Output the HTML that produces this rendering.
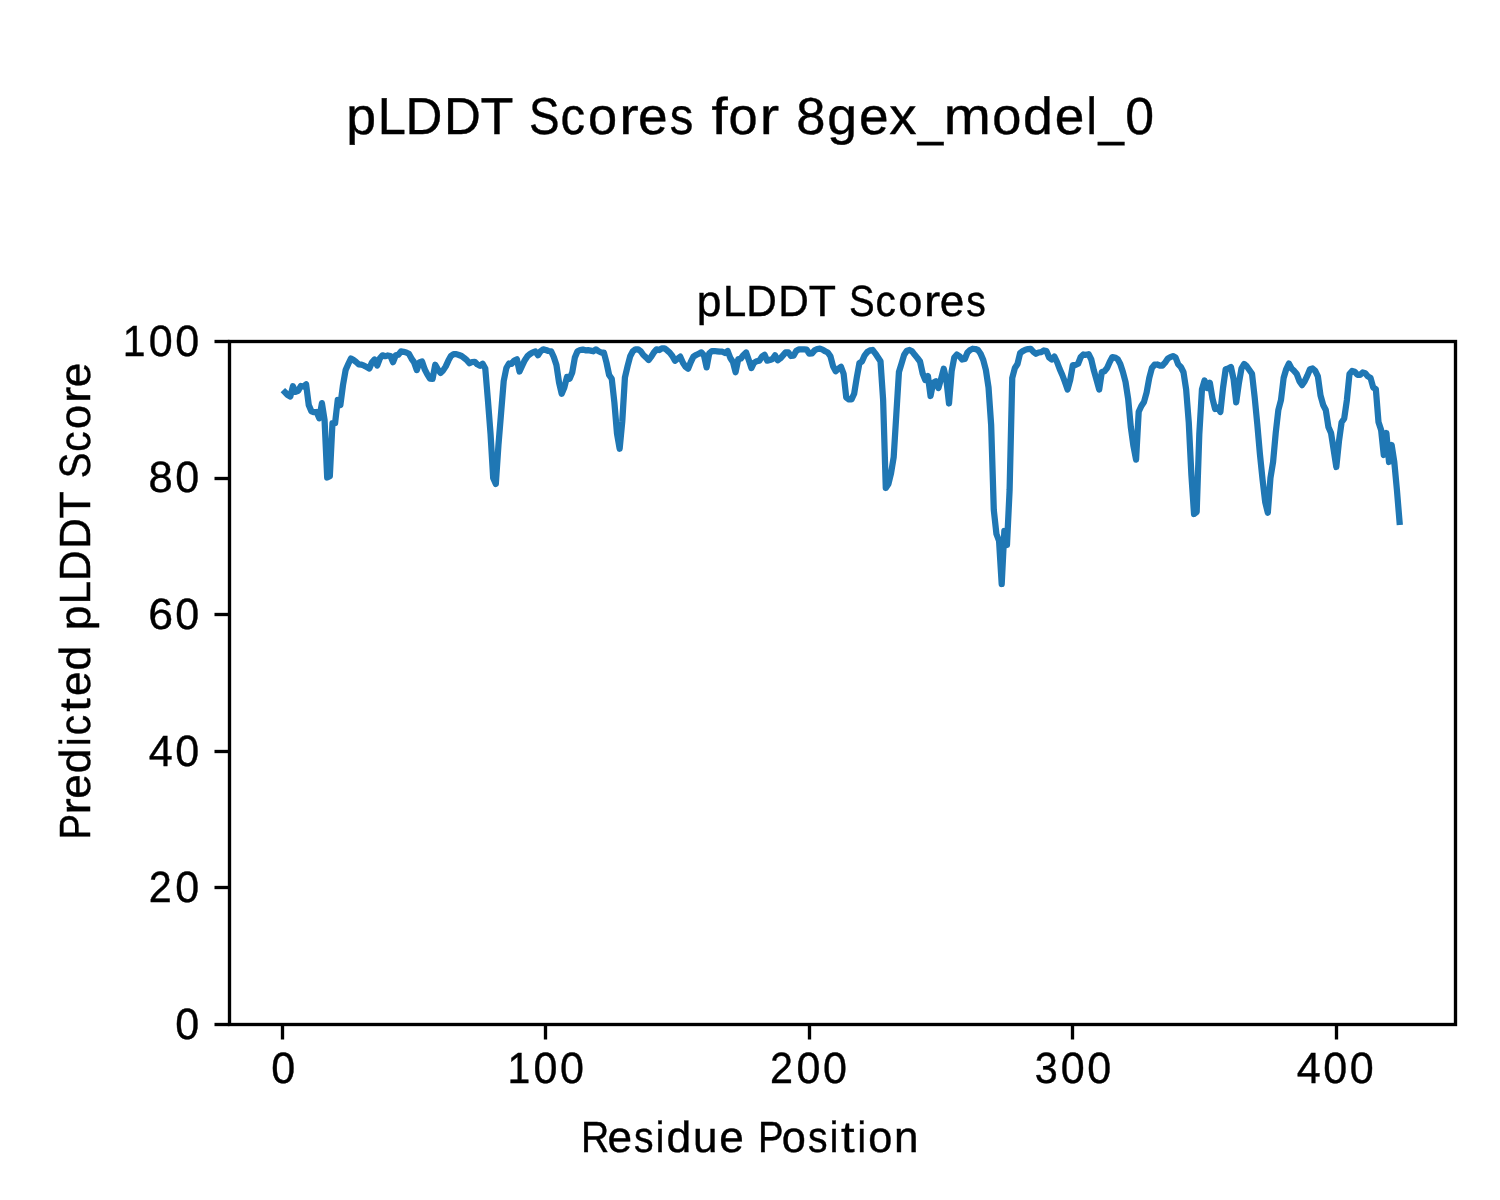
<!DOCTYPE html>
<html><head><meta charset="utf-8"><title>pLDDT Scores for 8gex_model_0</title>
<style>
html,body{margin:0;padding:0;background:#fff;}
body{width:1500px;height:1200px;overflow:hidden;}
svg{display:block;}
text{font-family:"Liberation Sans", sans-serif;fill:#000;stroke:#000;stroke-width:0.4px;text-rendering:geometricPrecision;}
.tx{filter:grayscale(1);}
</style></head>
<body>
<svg width="1500" height="1200" viewBox="0 0 1500 1200">
<rect width="1500" height="1200" fill="#fff"/>
<rect x="229.5" y="341.5" width="1226.00" height="683.00" fill="none" stroke="#000" stroke-width="3.33" stroke-linejoin="miter"/>
<line x1="214.50" y1="1024.50" x2="229.5" y2="1024.50" stroke="#000" stroke-width="3.33"/>
<line x1="214.50" y1="887.50" x2="229.5" y2="887.50" stroke="#000" stroke-width="3.33"/>
<line x1="214.50" y1="751.50" x2="229.5" y2="751.50" stroke="#000" stroke-width="3.33"/>
<line x1="214.50" y1="614.50" x2="229.5" y2="614.50" stroke="#000" stroke-width="3.33"/>
<line x1="214.50" y1="478.50" x2="229.5" y2="478.50" stroke="#000" stroke-width="3.33"/>
<line x1="214.50" y1="341.50" x2="229.5" y2="341.50" stroke="#000" stroke-width="3.33"/>
<line x1="282.50" y1="1024.5" x2="282.50" y2="1039.50" stroke="#000" stroke-width="3.33"/>
<line x1="545.50" y1="1024.5" x2="545.50" y2="1039.50" stroke="#000" stroke-width="3.33"/>
<line x1="809.50" y1="1024.5" x2="809.50" y2="1039.50" stroke="#000" stroke-width="3.33"/>
<line x1="1072.50" y1="1024.5" x2="1072.50" y2="1039.50" stroke="#000" stroke-width="3.33"/>
<line x1="1336.50" y1="1024.5" x2="1336.50" y2="1039.50" stroke="#000" stroke-width="3.33"/>
<path d="M285.03 392.30 L287.67 395.00 L290.30 396.50 L292.94 386.30 L295.57 391.80 L298.21 390.80 L300.84 386.00 L303.48 386.50 L306.11 384.30 L308.75 405.00 L311.38 411.30 L314.02 412.20 L316.65 412.00 L319.29 418.30 L321.92 403.20 L324.56 420.00 L327.19 477.50 L329.83 476.25 L332.46 423.12 L335.10 423.12 L337.73 400.00 L340.37 405.00 L343.00 385.00 L345.64 370.00 L348.27 364.00 L350.90 358.50 L353.54 360.00 L356.17 362.00 L358.81 364.30 L361.44 364.67 L364.08 365.67 L366.71 367.00 L369.35 368.53 L371.98 362.33 L374.62 359.47 L377.25 365.53 L379.89 358.33 L382.52 355.30 L385.16 356.17 L387.79 355.47 L390.43 356.00 L393.06 362.20 L395.70 355.33 L398.33 354.67 L400.97 351.47 L403.60 351.83 L406.24 352.50 L408.87 353.80 L411.51 358.60 L414.14 362.40 L416.77 370.10 L419.41 362.50 L422.04 361.50 L424.68 369.30 L427.31 374.40 L429.95 378.60 L432.58 378.90 L435.22 364.70 L437.85 369.40 L440.49 372.90 L443.12 370.40 L445.76 366.40 L448.39 360.60 L451.03 355.80 L453.66 354.10 L456.30 354.10 L458.93 355.00 L461.57 356.00 L464.20 358.00 L466.84 360.20 L469.47 363.30 L472.11 362.00 L474.74 361.80 L477.38 364.40 L480.01 365.90 L482.64 363.70 L485.28 368.60 L487.91 400.00 L490.55 434.00 L493.18 478.00 L495.82 484.00 L498.45 445.00 L501.09 413.00 L503.72 381.00 L506.36 368.00 L508.99 363.50 L511.63 363.80 L514.26 360.50 L516.90 359.30 L519.53 371.50 L522.17 365.70 L524.80 360.20 L527.44 356.20 L530.07 354.00 L532.71 352.40 L535.34 351.50 L537.98 355.30 L540.61 351.30 L543.25 349.40 L545.88 350.00 L548.51 351.00 L551.15 351.40 L553.78 357.00 L556.42 365.00 L559.05 382.50 L561.69 393.75 L564.32 387.50 L566.96 376.88 L569.59 378.75 L572.23 372.50 L574.86 357.50 L577.50 351.25 L580.13 350.00 L582.77 349.60 L585.40 350.30 L588.04 350.20 L590.67 350.62 L593.31 351.25 L595.94 349.38 L598.58 351.25 L601.21 352.50 L603.85 352.50 L606.48 362.50 L609.12 375.00 L611.75 378.75 L614.38 402.50 L617.02 433.75 L619.65 448.75 L622.29 421.25 L624.92 377.50 L627.56 366.25 L630.19 356.25 L632.83 351.25 L635.46 349.38 L638.10 349.38 L640.73 351.25 L643.37 355.00 L646.00 357.33 L648.64 360.00 L651.27 356.67 L653.91 352.33 L656.54 349.33 L659.18 350.00 L661.81 348.33 L664.45 348.33 L667.08 350.33 L669.72 352.67 L672.35 356.00 L674.99 360.67 L677.62 358.67 L680.25 356.67 L682.89 362.67 L685.52 366.67 L688.16 368.67 L690.79 362.00 L693.43 356.67 L696.06 355.00 L698.70 353.67 L701.33 352.33 L703.97 355.33 L706.60 367.33 L709.24 353.33 L711.87 351.00 L714.51 351.00 L717.14 351.33 L719.78 351.67 L722.41 351.67 L725.05 353.00 L727.68 351.00 L730.32 358.00 L732.95 362.00 L735.59 372.20 L738.22 359.30 L740.86 358.50 L743.49 355.00 L746.12 352.50 L748.76 360.00 L751.39 368.00 L754.03 362.67 L756.66 361.33 L759.30 360.67 L761.93 356.67 L764.57 354.80 L767.20 360.67 L769.84 360.00 L772.47 359.00 L775.11 355.33 L777.74 360.33 L780.38 358.33 L783.01 355.33 L785.65 352.33 L788.28 352.30 L790.92 356.00 L793.55 355.67 L796.19 351.00 L798.82 349.33 L801.46 349.33 L804.09 349.33 L806.73 349.67 L809.36 353.67 L811.99 353.33 L814.63 350.33 L817.26 349.00 L819.90 348.60 L822.53 349.60 L825.17 351.25 L827.80 352.50 L830.44 356.25 L833.07 366.25 L835.71 371.25 L838.34 368.75 L840.98 366.88 L843.61 373.75 L846.25 397.50 L848.88 399.38 L851.52 399.38 L854.15 393.75 L856.79 377.50 L859.42 363.12 L862.06 361.33 L864.69 355.33 L867.33 352.00 L869.96 350.40 L872.60 350.00 L875.23 353.33 L877.86 357.33 L880.50 361.33 L883.13 400.00 L885.77 488.00 L888.40 484.00 L891.04 473.33 L893.67 457.33 L896.31 414.67 L898.94 372.00 L901.58 363.33 L904.21 354.67 L906.85 350.67 L909.48 350.00 L912.12 351.33 L914.75 354.80 L917.39 358.00 L920.02 361.50 L922.66 373.50 L925.29 380.00 L927.93 376.00 L930.56 396.00 L933.20 382.67 L935.83 381.33 L938.47 388.00 L941.10 378.75 L943.73 368.75 L946.37 380.00 L949.00 403.50 L951.64 371.25 L954.27 357.50 L956.91 354.50 L959.54 356.25 L962.18 359.50 L964.81 359.00 L967.45 352.50 L970.08 350.00 L972.72 348.75 L975.35 349.00 L977.99 350.00 L980.62 353.75 L983.26 360.00 L985.89 370.00 L988.53 387.50 L991.16 425.00 L993.80 510.00 L996.43 534.00 L999.07 541.00 L1001.70 584.00 L1004.34 531.00 L1006.97 545.00 L1009.60 490.00 L1012.24 378.00 L1014.87 368.00 L1017.51 364.00 L1020.14 353.00 L1022.78 351.10 L1025.41 349.80 L1028.05 349.10 L1030.68 348.80 L1033.32 351.80 L1035.95 353.80 L1038.59 352.50 L1041.22 352.10 L1043.86 350.50 L1046.49 351.10 L1049.13 357.50 L1051.76 359.50 L1054.40 356.50 L1057.03 362.00 L1059.67 369.00 L1062.30 375.00 L1064.94 382.00 L1067.57 389.50 L1070.21 380.00 L1072.84 365.00 L1075.47 365.00 L1078.11 363.75 L1080.74 357.00 L1083.38 354.50 L1086.01 354.80 L1088.65 354.20 L1091.28 359.50 L1093.92 370.70 L1096.55 380.00 L1099.19 389.50 L1101.82 372.00 L1104.46 371.30 L1107.09 368.00 L1109.73 362.00 L1112.36 357.10 L1115.00 357.50 L1117.63 359.10 L1120.27 364.00 L1122.90 372.00 L1125.54 382.00 L1128.17 399.00 L1130.81 427.00 L1133.44 446.00 L1136.08 459.70 L1138.71 411.70 L1141.34 406.00 L1143.98 402.00 L1146.61 392.50 L1149.25 378.00 L1151.88 368.00 L1154.52 364.70 L1157.15 364.50 L1159.79 365.50 L1162.42 365.50 L1165.06 362.70 L1167.69 358.70 L1170.33 357.10 L1172.96 356.10 L1175.60 357.50 L1178.23 364.38 L1180.87 367.00 L1183.50 372.25 L1186.14 389.50 L1188.77 422.50 L1191.41 475.00 L1194.04 514.00 L1196.68 512.00 L1199.31 434.00 L1201.95 389.50 L1204.58 380.50 L1207.21 388.00 L1209.85 382.75 L1212.48 398.50 L1215.12 409.00 L1217.75 407.50 L1220.39 412.00 L1223.02 388.00 L1225.66 369.25 L1228.29 368.50 L1230.93 367.00 L1233.56 379.00 L1236.20 402.30 L1238.83 383.50 L1241.47 368.50 L1244.10 364.00 L1246.74 366.25 L1249.37 370.00 L1252.01 373.75 L1254.64 397.00 L1257.28 424.00 L1259.91 454.00 L1262.55 479.50 L1265.18 502.00 L1267.82 512.70 L1270.45 478.00 L1273.08 462.00 L1275.72 433.00 L1278.35 410.00 L1280.99 400.00 L1283.62 378.00 L1286.26 369.00 L1288.89 363.50 L1291.53 368.50 L1294.16 370.88 L1296.80 374.05 L1299.43 381.18 L1302.07 385.14 L1304.70 381.18 L1307.34 375.64 L1309.97 369.30 L1312.61 368.51 L1315.24 370.88 L1317.88 376.43 L1320.51 395.43 L1323.15 404.94 L1325.78 410.00 L1328.42 427.00 L1331.05 433.00 L1333.69 450.00 L1336.32 467.00 L1338.95 441.36 L1341.59 422.36 L1344.22 418.40 L1346.86 400.18 L1349.49 374.05 L1352.13 370.88 L1354.76 371.68 L1357.40 374.84 L1360.03 374.84 L1362.67 372.47 L1365.30 373.26 L1367.94 376.43 L1370.57 378.01 L1373.21 387.51 L1375.84 389.10 L1378.48 422.00 L1381.11 430.00 L1383.75 455.00 L1386.38 433.00 L1389.02 462.00 L1391.65 445.00 L1394.29 462.00 L1396.92 490.00 L1399.56 522.00" fill="none" stroke="#1f77b4" stroke-width="6.25" stroke-linejoin="round" stroke-linecap="square"/>
<g class="tx">
<text x="346.24" y="133.80" font-size="52.0" textLength="29.82" lengthAdjust="spacingAndGlyphs">p</text>
<text x="377.68" y="133.80" font-size="52.0" textLength="28.12" lengthAdjust="spacingAndGlyphs">L</text>
<text x="405.51" y="133.80" font-size="52.0" textLength="36.86" lengthAdjust="spacingAndGlyphs">D</text>
<text x="444.01" y="133.80" font-size="52.0" textLength="36.86" lengthAdjust="spacingAndGlyphs">D</text>
<text x="480.49" y="133.80" font-size="52.0" textLength="32.92" lengthAdjust="spacingAndGlyphs">T</text>
<text x="528.94" y="133.80" font-size="52.0" textLength="30.52" lengthAdjust="spacingAndGlyphs">S</text>
<text x="560.61" y="133.80" font-size="52.0" textLength="24.61" lengthAdjust="spacingAndGlyphs">c</text>
<text x="588.00" y="133.80" font-size="52.0" textLength="29.11" lengthAdjust="spacingAndGlyphs">o</text>
<text x="619.23" y="133.80" font-size="52.0" textLength="19.41" lengthAdjust="spacingAndGlyphs">r</text>
<text x="638.07" y="133.80" font-size="52.0" textLength="29.60" lengthAdjust="spacingAndGlyphs">e</text>
<text x="669.70" y="133.80" font-size="52.0" textLength="23.55" lengthAdjust="spacingAndGlyphs">s</text>
<text x="711.42" y="133.80" font-size="52.0" textLength="16.19" lengthAdjust="spacingAndGlyphs">f</text>
<text x="728.50" y="133.80" font-size="52.0" textLength="29.11" lengthAdjust="spacingAndGlyphs">o</text>
<text x="759.73" y="133.80" font-size="52.0" textLength="19.41" lengthAdjust="spacingAndGlyphs">r</text>
<text x="796.16" y="133.80" font-size="52.0" textLength="29.17" lengthAdjust="spacingAndGlyphs">8</text>
<text x="827.32" y="133.80" font-size="52.0" textLength="29.82" lengthAdjust="spacingAndGlyphs">g</text>
<text x="859.07" y="133.80" font-size="52.0" textLength="29.60" lengthAdjust="spacingAndGlyphs">e</text>
<text x="889.28" y="133.80" font-size="52.0" textLength="27.31" lengthAdjust="spacingAndGlyphs">x</text>
<text x="917.74" y="135.21" font-size="52.0" textLength="25.45" lengthAdjust="spacingAndGlyphs">_</text>
<text x="943.82" y="133.80" font-size="52.0" textLength="47.09" lengthAdjust="spacingAndGlyphs">m</text>
<text x="992.37" y="133.80" font-size="52.0" textLength="29.11" lengthAdjust="spacingAndGlyphs">o</text>
<text x="1022.94" y="133.80" font-size="52.0" textLength="29.82" lengthAdjust="spacingAndGlyphs">d</text>
<text x="1054.70" y="133.80" font-size="52.0" textLength="29.60" lengthAdjust="spacingAndGlyphs">e</text>
<text x="1086.57" y="133.80" font-size="52.0" textLength="10.35" lengthAdjust="spacingAndGlyphs">l</text>
<text x="1098.61" y="135.21" font-size="52.0" textLength="25.45" lengthAdjust="spacingAndGlyphs">_</text>
<text x="1125.18" y="133.80" font-size="52.0" textLength="28.77" lengthAdjust="spacingAndGlyphs">0</text>
<text x="696.84" y="315.80" font-size="43.6" textLength="24.68" lengthAdjust="spacingAndGlyphs">p</text>
<text x="723.01" y="315.80" font-size="43.6" textLength="23.29" lengthAdjust="spacingAndGlyphs">L</text>
<text x="746.22" y="315.80" font-size="43.6" textLength="30.58" lengthAdjust="spacingAndGlyphs">D</text>
<text x="778.35" y="315.80" font-size="43.6" textLength="30.58" lengthAdjust="spacingAndGlyphs">D</text>
<text x="808.69" y="315.80" font-size="43.6" textLength="27.26" lengthAdjust="spacingAndGlyphs">T</text>
<text x="848.89" y="315.80" font-size="43.6" textLength="25.59" lengthAdjust="spacingAndGlyphs">S</text>
<text x="875.46" y="315.80" font-size="43.6" textLength="20.41" lengthAdjust="spacingAndGlyphs">c</text>
<text x="898.26" y="315.80" font-size="43.6" textLength="24.09" lengthAdjust="spacingAndGlyphs">o</text>
<text x="924.06" y="315.80" font-size="43.6" textLength="16.28" lengthAdjust="spacingAndGlyphs">r</text>
<text x="939.82" y="315.80" font-size="43.6" textLength="24.55" lengthAdjust="spacingAndGlyphs">e</text>
<text x="966.30" y="315.80" font-size="43.6" textLength="19.53" lengthAdjust="spacingAndGlyphs">s</text>
<text x="580.99" y="1151.80" font-size="43.6" textLength="28.28" lengthAdjust="spacingAndGlyphs">R</text>
<text x="607.57" y="1151.80" font-size="43.6" textLength="24.55" lengthAdjust="spacingAndGlyphs">e</text>
<text x="634.05" y="1151.80" font-size="43.6" textLength="19.53" lengthAdjust="spacingAndGlyphs">s</text>
<text x="655.87" y="1151.80" font-size="43.6" textLength="8.53" lengthAdjust="spacingAndGlyphs">i</text>
<text x="666.46" y="1151.80" font-size="43.6" textLength="24.68" lengthAdjust="spacingAndGlyphs">d</text>
<text x="693.09" y="1151.80" font-size="43.6" textLength="24.50" lengthAdjust="spacingAndGlyphs">u</text>
<text x="719.19" y="1151.80" font-size="43.6" textLength="24.55" lengthAdjust="spacingAndGlyphs">e</text>
<text x="758.07" y="1151.80" font-size="43.6" textLength="25.59" lengthAdjust="spacingAndGlyphs">P</text>
<text x="781.76" y="1151.80" font-size="43.6" textLength="24.09" lengthAdjust="spacingAndGlyphs">o</text>
<text x="807.92" y="1151.80" font-size="43.6" textLength="19.53" lengthAdjust="spacingAndGlyphs">s</text>
<text x="829.74" y="1151.80" font-size="43.6" textLength="8.53" lengthAdjust="spacingAndGlyphs">i</text>
<text x="841.03" y="1151.80" font-size="43.6" textLength="13.58" lengthAdjust="spacingAndGlyphs">t</text>
<text x="857.62" y="1151.80" font-size="43.6" textLength="8.53" lengthAdjust="spacingAndGlyphs">i</text>
<text x="868.26" y="1151.80" font-size="43.6" textLength="24.09" lengthAdjust="spacingAndGlyphs">o</text>
<text x="894.03" y="1151.80" font-size="43.6" textLength="24.48" lengthAdjust="spacingAndGlyphs">n</text>
<text x="175.32" y="1038.80" font-size="43.6" textLength="23.95" lengthAdjust="spacingAndGlyphs">0</text>
<text x="148.80" y="902.20" font-size="43.6" textLength="23.00" lengthAdjust="spacingAndGlyphs">2</text>
<text x="175.32" y="902.20" font-size="43.6" textLength="23.95" lengthAdjust="spacingAndGlyphs">0</text>
<text x="148.82" y="765.60" font-size="43.6" textLength="23.96" lengthAdjust="spacingAndGlyphs">4</text>
<text x="175.32" y="765.60" font-size="43.6" textLength="23.95" lengthAdjust="spacingAndGlyphs">0</text>
<text x="148.35" y="629.00" font-size="43.6" textLength="24.82" lengthAdjust="spacingAndGlyphs">6</text>
<text x="175.32" y="629.00" font-size="43.6" textLength="23.95" lengthAdjust="spacingAndGlyphs">0</text>
<text x="148.61" y="492.40" font-size="43.6" textLength="24.24" lengthAdjust="spacingAndGlyphs">8</text>
<text x="175.32" y="492.40" font-size="43.6" textLength="23.95" lengthAdjust="spacingAndGlyphs">0</text>
<text x="122.69" y="355.80" font-size="43.6" textLength="22.77" lengthAdjust="spacingAndGlyphs">1</text>
<text x="148.82" y="355.80" font-size="43.6" textLength="23.95" lengthAdjust="spacingAndGlyphs">0</text>
<text x="175.32" y="355.80" font-size="43.6" textLength="23.95" lengthAdjust="spacingAndGlyphs">0</text>
<text x="271.32" y="1082.80" font-size="43.6" textLength="23.95" lengthAdjust="spacingAndGlyphs">0</text>
<text x="507.43" y="1082.80" font-size="43.6" textLength="22.77" lengthAdjust="spacingAndGlyphs">1</text>
<text x="533.56" y="1082.80" font-size="43.6" textLength="23.95" lengthAdjust="spacingAndGlyphs">0</text>
<text x="560.06" y="1082.80" font-size="43.6" textLength="23.95" lengthAdjust="spacingAndGlyphs">0</text>
<text x="770.03" y="1082.80" font-size="43.6" textLength="23.00" lengthAdjust="spacingAndGlyphs">2</text>
<text x="796.54" y="1082.80" font-size="43.6" textLength="23.95" lengthAdjust="spacingAndGlyphs">0</text>
<text x="823.04" y="1082.80" font-size="43.6" textLength="23.95" lengthAdjust="spacingAndGlyphs">0</text>
<text x="1034.63" y="1082.80" font-size="43.6" textLength="23.05" lengthAdjust="spacingAndGlyphs">3</text>
<text x="1060.71" y="1082.80" font-size="43.6" textLength="23.95" lengthAdjust="spacingAndGlyphs">0</text>
<text x="1087.21" y="1082.80" font-size="43.6" textLength="23.95" lengthAdjust="spacingAndGlyphs">0</text>
<text x="1296.71" y="1082.80" font-size="43.6" textLength="23.96" lengthAdjust="spacingAndGlyphs">4</text>
<text x="1323.21" y="1082.80" font-size="43.6" textLength="23.95" lengthAdjust="spacingAndGlyphs">0</text>
<text x="1349.71" y="1082.80" font-size="43.6" textLength="23.95" lengthAdjust="spacingAndGlyphs">0</text>
<g transform="rotate(-90)">
<text x="-839.45" y="89.80" font-size="43.6" textLength="25.59" lengthAdjust="spacingAndGlyphs">P</text>
<text x="-814.59" y="89.80" font-size="43.6" textLength="16.28" lengthAdjust="spacingAndGlyphs">r</text>
<text x="-798.83" y="89.80" font-size="43.6" textLength="24.55" lengthAdjust="spacingAndGlyphs">e</text>
<text x="-773.19" y="89.80" font-size="43.6" textLength="24.68" lengthAdjust="spacingAndGlyphs">d</text>
<text x="-745.91" y="89.80" font-size="43.6" textLength="8.53" lengthAdjust="spacingAndGlyphs">i</text>
<text x="-735.19" y="89.80" font-size="43.6" textLength="20.41" lengthAdjust="spacingAndGlyphs">c</text>
<text x="-711.75" y="89.80" font-size="43.6" textLength="13.58" lengthAdjust="spacingAndGlyphs">t</text>
<text x="-696.08" y="89.80" font-size="43.6" textLength="24.55" lengthAdjust="spacingAndGlyphs">e</text>
<text x="-670.44" y="89.80" font-size="43.6" textLength="24.68" lengthAdjust="spacingAndGlyphs">d</text>
<text x="-630.31" y="89.80" font-size="43.6" textLength="24.68" lengthAdjust="spacingAndGlyphs">p</text>
<text x="-604.14" y="89.80" font-size="43.6" textLength="23.29" lengthAdjust="spacingAndGlyphs">L</text>
<text x="-580.93" y="89.80" font-size="43.6" textLength="30.58" lengthAdjust="spacingAndGlyphs">D</text>
<text x="-548.80" y="89.80" font-size="43.6" textLength="30.58" lengthAdjust="spacingAndGlyphs">D</text>
<text x="-518.46" y="89.80" font-size="43.6" textLength="27.26" lengthAdjust="spacingAndGlyphs">T</text>
<text x="-478.26" y="89.80" font-size="43.6" textLength="25.59" lengthAdjust="spacingAndGlyphs">S</text>
<text x="-451.69" y="89.80" font-size="43.6" textLength="20.41" lengthAdjust="spacingAndGlyphs">c</text>
<text x="-428.89" y="89.80" font-size="43.6" textLength="24.09" lengthAdjust="spacingAndGlyphs">o</text>
<text x="-403.09" y="89.80" font-size="43.6" textLength="16.28" lengthAdjust="spacingAndGlyphs">r</text>
<text x="-387.33" y="89.80" font-size="43.6" textLength="24.55" lengthAdjust="spacingAndGlyphs">e</text>
</g>
</g>
</svg>
</body></html>
